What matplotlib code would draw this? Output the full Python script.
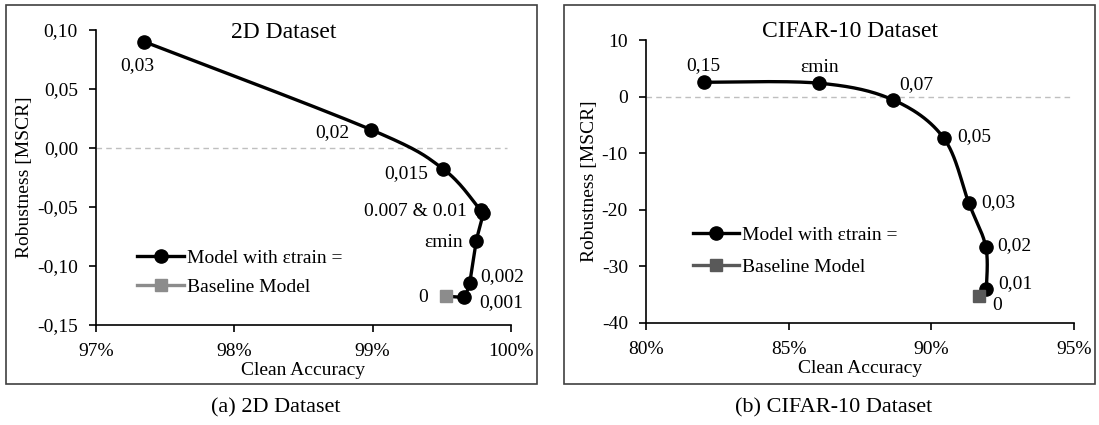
import numpy as np
import matplotlib
matplotlib.use("Agg")
import matplotlib.pyplot as plt
from matplotlib.lines import Line2D
from matplotlib.patches import Rectangle
from matplotlib.ticker import FuncFormatter

plt.rcParams['font.family'] = ['Liberation Serif', 'DejaVu Serif']

# ---- data: 2D dataset ----
d2_labels = ["0,03", "0,02", "0,015", "0.007 & 0.01", "", "εmin", "0,002", "0,001"]
d2_acc = [97.35, 98.99, 99.51, 99.78, 99.80, 99.75, 99.70, 99.66]
d2_rob = [0.090, 0.0153, -0.018, -0.053, -0.055, -0.079, -0.115, -0.127]
d2_base_acc = [99.53]
d2_base_rob = [-0.126]
d2_base_label = "0"

# ---- data: CIFAR-10 dataset ----
c10_labels = ["0,15", "εmin", "0,07", "0,05", "0,03", "0,02", "0,01"]
c10_acc = [82.02, 86.07, 88.66, 90.44, 91.32, 91.91, 91.93]
c10_rob = [2.6, 2.43, -0.53, -7.34, -18.9, -26.6, -34.0]
c10_base_acc = [91.67]
c10_base_rob = [-35.35]
c10_base_label = "0"

# label offsets (points)
d2_offsets = [(-5, -17, 'center'), (-16, -2, 'right'), (-11, -3, 'right'), (-10, -1, 'right'),
              None, (-10, -1, 'right'), (7.5, 5, 'left'), (11, -4, 'left')]
d2_base_off = (-13, -1, 'right')
c10_offsets = [(0, 12, 'center'), (0, 11, 'center'), (4.5, 11, 'left'), (9.5, 1, 'left'),
               (8.5, 1, 'left'), (8.5, 1, 'left'), (8.5, 4, 'left')]
c10_base_off = (9.5, -7, 'left')

FS = 14
FT = 17
FC = 16


def smooth(ax, xs, ys, n=30):
    # Catmull-Rom in normalized axis space (Excel-like smoothing)
    x0, x1 = ax.get_xlim()
    y0, y1 = ax.get_ylim()
    px = (np.asarray(xs) - x0) / (x1 - x0) * 1.45
    py = (np.asarray(ys) - y0) / (y1 - y0)
    P = np.column_stack([px, py])
    P = np.vstack([P[0], P, P[-1]])
    out = []
    for i in range(1, len(P) - 2):
        p0, p1, p2, p3 = P[i - 1], P[i], P[i + 1], P[i + 2]
        c1 = p1 + (p2 - p0) / 6
        c2 = p2 - (p3 - p1) / 6
        t = np.linspace(0, 1, n)[:, None]
        seg = (1 - t) ** 3 * p1 + 3 * (1 - t) ** 2 * t * c1 + 3 * (1 - t) * t ** 2 * c2 + t ** 3 * p2
        out.append(seg)
    S = np.vstack(out)
    return S[:, 0] / 1.45 * (x1 - x0) + x0, S[:, 1] * (y1 - y0) + y0


fig = plt.figure(figsize=(10.99, 4.25), dpi=100)

# outer boxes
for (x, w) in [(6, 531), (564, 531)]:
    fig.patches.append(Rectangle((x / 1099, 41 / 425), w / 1099, 379 / 425,
                                 transform=fig.transFigure, fill=False,
                                 edgecolor='#404040', lw=1.2))


def style(ax):
    ax.spines['top'].set_visible(False)
    ax.spines['right'].set_visible(False)
    for s in ['left', 'bottom']:
        ax.spines[s].set_linewidth(1.2)
        ax.spines[s].set_color('black')
    ax.tick_params(direction='out', length=5, width=1.2, labelsize=FS)
    ax.tick_params(axis='x', pad=8.5)
    ax.tick_params(axis='y', pad=8)
    ax.set_xlabel("Clean Accuracy", fontsize=FS, labelpad=1.5)
    ax.set_ylabel("Robustness [MSCR]", fontsize=FS, labelpad=3)


# ---- left panel ----
ax1 = fig.add_axes([96 / 1099, 100.5 / 425, 415 / 1099, 294.5 / 425])
ax1.set_xlim(97, 100)
ax1.set_ylim(-0.15, 0.10)
ax1.set_xticks([97, 98, 99, 100])
ax1.set_yticks([-0.15, -0.10, -0.05, 0.0, 0.05, 0.10])
ax1.xaxis.set_major_formatter(FuncFormatter(lambda v, p: f"{v:.0f}%"))
ax1.yaxis.set_major_formatter(FuncFormatter(lambda v, p: f"{v:.2f}".replace('.', ',').replace('-0,00', '0,00')))
style(ax1)
ax1.axhline(0, xmin=0, xmax=0.99, color='#bfbfbf', lw=1, ls=(0, (4, 3)), zorder=1)
sx, sy = smooth(ax1, d2_acc, d2_rob)
ax1.plot(sx, sy, color='black', lw=2.4, zorder=3)
ax1.plot(d2_acc, d2_rob, 'o', color='black', ms=9.5, zorder=4)
ax1.plot([d2_base_acc[0], d2_acc[-1]], [d2_base_rob[0], d2_rob[-1]], color='black', lw=2.4, zorder=2)
ax1.plot(d2_base_acc, d2_base_rob, 's', color='#8c8c8c', ms=8.5, zorder=5)
for lab, xv, yv, off in zip(d2_labels, d2_acc, d2_rob, d2_offsets):
    if off is None or not lab:
        continue
    ax1.annotate(lab, (xv, yv), xytext=off[:2], textcoords='offset points',
                 ha=off[2], va='center', fontsize=FS)
ax1.annotate(d2_base_label, (d2_base_acc[0], d2_base_rob[0]), xytext=d2_base_off[:2],
             textcoords='offset points', ha=d2_base_off[2], va='center', fontsize=FS)
ax1.text(0.453, 0.99, "2D Dataset", transform=ax1.transAxes, ha='center', va='center', fontsize=FT)
h1 = [Line2D([], [], color='black', lw=2.4, marker='o', ms=9.5),
      Line2D([], [], color='#8c8c8c', lw=2.4, marker='s', ms=8.5)]
ax1.legend(h1, ["Model with εtrain =", "Baseline Model"], loc='lower left',
           bbox_to_anchor=(0.081, 0.07), frameon=False, fontsize=FS, handlelength=2.4,
           handletextpad=0.15, labelspacing=0.6, borderaxespad=0)

# ---- right panel ----
ax2 = fig.add_axes([646 / 1099, 102.5 / 425, 428 / 1099, 282 / 425])
ax2.set_xlim(80, 95)
ax2.set_ylim(-40, 10)
ax2.set_xticks([80, 85, 90, 95])
ax2.set_yticks([-40, -30, -20, -10, 0, 10])
ax2.xaxis.set_major_formatter(FuncFormatter(lambda v, p: f"{v:.0f}%"))
ax2.yaxis.set_major_formatter(FuncFormatter(lambda v, p: f"{v:.0f}"))
style(ax2)
ax2.axhline(0, xmin=0, xmax=0.995, color='#bfbfbf', lw=1, ls=(0, (4, 3)), zorder=1)
sx, sy = smooth(ax2, c10_acc, c10_rob)
ax2.plot(sx, sy, color='black', lw=2.4, zorder=3)
ax2.plot(c10_acc, c10_rob, 'o', color='black', ms=9.5, zorder=4)
ax2.plot(c10_base_acc, c10_base_rob, 's', color='#595959', ms=8.5, zorder=5)
for lab, xv, yv, off in zip(c10_labels, c10_acc, c10_rob, c10_offsets):
    ax2.annotate(lab, (xv, yv), xytext=off[:2], textcoords='offset points',
                 ha=off[2], va='center', fontsize=FS)
ax2.annotate(c10_base_label, (c10_base_acc[0], c10_base_rob[0]), xytext=c10_base_off[:2],
             textcoords='offset points', ha=c10_base_off[2], va='center', fontsize=FS)
ax2.text(0.477, 1.031, "CIFAR-10 Dataset", transform=ax2.transAxes, ha='center', va='center', fontsize=FT)
h2 = [Line2D([], [], color='black', lw=2.4, marker='o', ms=9.5),
      Line2D([], [], color='#595959', lw=2.4, marker='s', ms=8.5)]
ax2.legend(h2, ["Model with εtrain =", "Baseline Model"], loc='lower left',
           bbox_to_anchor=(0.091, 0.138), frameon=False, fontsize=FS, handlelength=2.4,
           handletextpad=0.15, labelspacing=0.72, borderaxespad=0)

fig.text(275.5 / 1099, 1 - 408 / 425, "(a) 2D Dataset", ha='center', va='center', fontsize=FC)
fig.text(834 / 1099, 1 - 408 / 425, "(b) CIFAR-10 Dataset", ha='center', va='center', fontsize=FC)

fig.savefig("out.png", dpi=100)
